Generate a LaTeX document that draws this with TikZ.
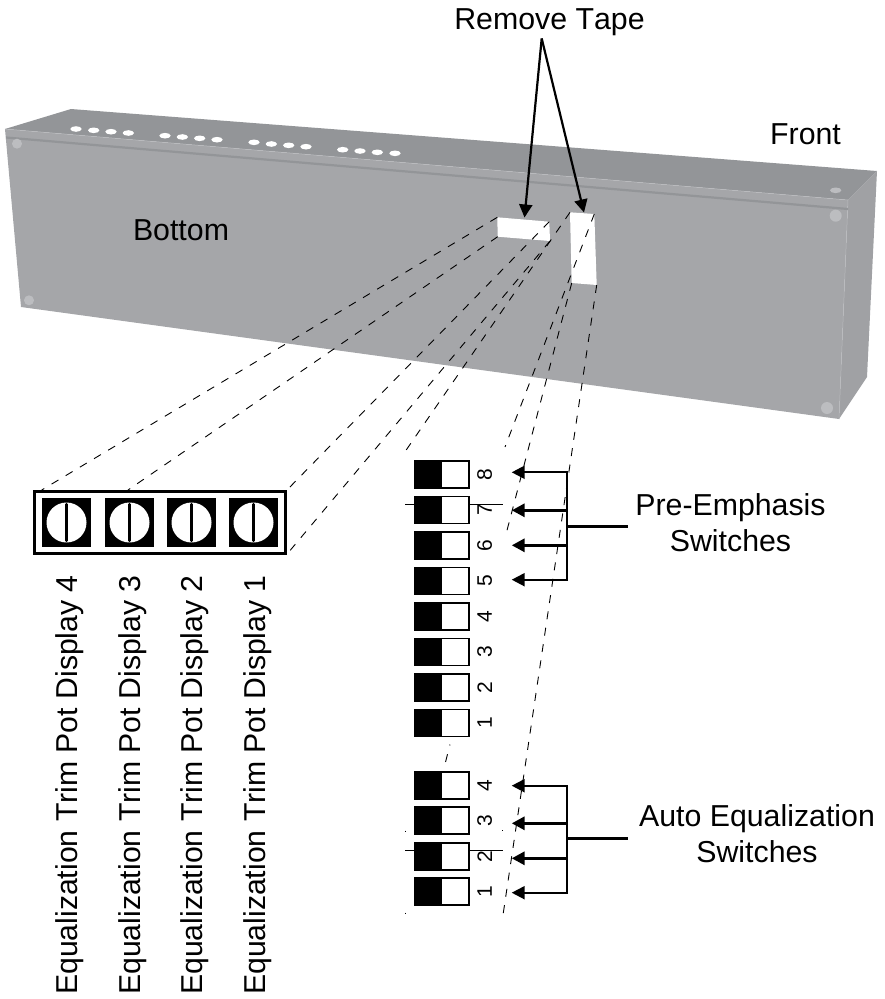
\documentclass[tikz,border=0pt]{standalone}
\usepackage{fontspec}
\setmainfont[Kerning=Off]{Liberation Sans}
\usetikzlibrary{arrows.meta}
\definecolor{topface}{HTML}{939598}
\definecolor{mainface}{HTML}{A5A6A9}
\definecolor{sideface}{HTML}{A0A1A4}
\definecolor{screwcol}{HTML}{BCBDC0}
\tikzset{
	lbl/.style={inner sep=0pt,font=\fontsize{30.3}{36.3}\selectfont},
	potlbl/.style={inner sep=0pt,rotate=90,anchor=base east,font=\fontsize{30.2}{34}\selectfont},
	numlbl/.style={inner sep=0pt,rotate=90,font=\fontsize{21}{24}\selectfont},
	hidden/.style={line width=0.9pt,dash pattern=on 8pt off 8.5pt},
	switchbox/.style={draw,fill=white,line width=1.5pt,minimum width=54pt,minimum height=27pt,inner sep=0pt},
	bigarrow/.style={-{Triangle[length=13pt,width=13pt]},line width=2.2pt},
	bus/.style={line width=2.2pt,line join=miter}
}
\begin{document}
\begin{tikzpicture}[x=1pt,y=-1pt,>=stealth]
	\useasboundingbox (0,0) rectangle (885,999);

	% housing
	\fill[topface] (5,129) -- (71,109) -- (877,171) -- (848,200) -- cycle;
	\fill[mainface] (5,129) -- (848,200) -- (839,419) -- (21,307) -- cycle;
	\fill[sideface] (848,200) -- (877,171) -- (867,377) -- (839,419) -- cycle;
	\draw[screwcol,line width=0.5pt] (5,129) -- (848,200) -- (839,419);
	\draw[topface,line width=2.2pt] (6,137.5) -- (848,209);

	\foreach \x/\y in {76/129,93.7/130.3,111/131.7,128.3/133,165/135.7,182.3/137,199.7/138.3,217/139.7,254/142.3,271.3/144,288.7/145.3,306/146.7,342.7/149.7,360/151,377.3/152.3,395/153.3}
		\fill[white] (\x,\y) ellipse [x radius=5.7pt,y radius=2.8pt];
	\fill[screwcol] (835.7,190.3) ellipse [x radius=5.7pt,y radius=2.8pt];
	\foreach \x/\y/\r in {17/143.7/5,29/300.3/5,835.7/215.7/6,827/408/6}
		\fill[screwcol] (\x,\y) circle [radius=\r pt];

	% taped windows
	\fill[white] (497.3,217.3) -- (549.3,221.7) -- (550,241) -- (497.7,236.7) -- cycle;
	\fill[white] (570,212.3) -- (594.3,214) -- (596.7,285) -- (571.7,283) -- cycle;

	% trim pots
	\node[draw,line width=2.2pt,minimum width=251pt,minimum height=62pt,inner sep=0pt] (potbox) at (160,522.5) {};
	\foreach \n/\x in {4/66.5,3/129.5,2/191.5,1/253.5} {
		\node[fill=black,minimum size=49pt,inner sep=0pt] (pot\n) at (\x,522.5) {};
		\fill[white] (pot\n) circle [radius=20pt];
		\draw[line width=3.5pt,line cap=round] (\x,504.5) -- (\x,540.5);
	}
	\node[potlbl] (trim4) at (77.3,575) {Equalization Trim Pot Display 4};
	\node[potlbl] (trim3) at (140,575) {Equalization Trim Pot Display 3};
	\node[potlbl] (trim2) at (202.3,575) {Equalization Trim Pot Display 2};
	\node[potlbl] (trim1) at (265,575) {Equalization Trim Pot Display 1};

	% projection lines
	\coordinate (wa) at (497.3,217.3);
	\coordinate (wb) at (497.7,236.7);
	\coordinate (wc) at (549.3,221.7);
	\coordinate (wd) at (550,241);
	\coordinate (we) at (570,212.3);
	\coordinate (wf) at (594.3,214);
	\coordinate (wg) at (571.7,283);
	\coordinate (wh) at (596.7,285);
	\draw[hidden] (wa) -- (41.7,490);
	\draw[hidden] (wb) -- (128,490);
	\draw[hidden] (wc) -- (potbox.north east);
	\draw[hidden] (wd) -- (potbox.south east);
	\draw[hidden] (we) -- (405.5,451);
	\draw[hidden] (wf) -- (505,447);
	\draw[hidden] (wg) -- (505,538);
	\draw[hidden] (wh) -- (503,915);
	\draw[line width=0.9pt,dash pattern=on 1pt off 9pt on 8pt off 20pt] (450,744.5) -- (444.5,766);
	\draw[line width=0.9pt,dash pattern=on 1pt off 81pt] (405.7,830.5) -- (405.7,914);
	\draw[line width=0.9pt] (502.3,830.2) -- (502.3,831.2);

	% switches
	\draw[line width=1pt] (405,504) -- (503,504);
	\draw[line width=1pt] (405,850.7) -- (503,850.7);
	\foreach \n/\y in {8/474.7,7/510,6/545.7,5/581,4/616.7,3/652,2/687.3,1/723} {
		\node[switchbox] (pe\n) at (441.8,\y) {};
		\fill (pe\n.north west) rectangle (pe\n.south);
		\node[numlbl] (penum\n) at (484.7,\y) {\n};
	}
	\foreach \n/\y in {4/785.3,3/820.7,2/856.3,1/891.7} {
		\node[switchbox] (ae\n) at (441.8,\y) {};
		\fill (ae\n.north west) rectangle (ae\n.south);
		\node[numlbl] (aenum\n) at (484.7,\y) {\n};
	}

	% labels
	\node[lbl,anchor=base] (tape) at (549.5,29.3) {Remove Tape};
	\node[lbl,anchor=base] (front) at (805.5,144) {Front};
	\node[lbl,anchor=base] (bottom) at (181,240) {Bottom};
	\node[lbl,align=center,inner xsep=7.3pt] (preemph) at (730.5,523) {Pre-Emphasis\\Switches};
	\node[lbl,align=center,inner xsep=10.9pt] (autoeq) at (757,834) {Auto Equalization\\Switches};

	% tape arrows
	\coordinate (tapefoot) at (541.7,38.5);
	\draw[bigarrow] (tapefoot) -- (524.5,217.5);
	\draw[bigarrow] (tapefoot) -- (584,212.5);

	% switch arrows
	\draw[bus] (567,472.3) -- (567,579.7);
	\draw[bus] (567,785.7) -- (567,892.7);
	\foreach \n/\y/\w in {8/472.3/2.2,7/510.3/3.2,6/545.3/3.2,5/579.7/2.2} {
		\coordinate (pebus\n) at (568,\y);
		\draw[-{Triangle[length=13pt,width=13pt]},line width=\w pt] (pebus\n) -- (511.7,\y);
	}
	\foreach \n/\y/\w in {4/785.7/2.2,3/823.3/3.2,2/858.3/3.2,1/892.7/2.2} {
		\coordinate (aebus\n) at (568,\y);
		\draw[-{Triangle[length=13pt,width=13pt]},line width=\w pt] (aebus\n) -- (511.7,\y);
	}
	\coordinate (prestub) at (567,526.3);
	\coordinate (autostub) at (567,838.3);
	\draw[line width=3pt] (prestub) -- (preemph.west |- prestub);
	\draw[line width=2.5pt] (autostub) -- (autoeq.west |- autostub);
\end{tikzpicture}
\end{document}
